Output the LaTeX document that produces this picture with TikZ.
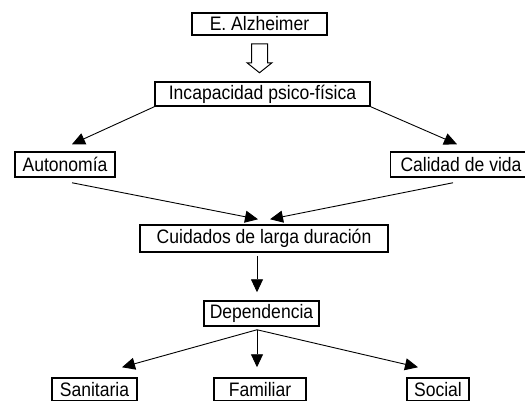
\documentclass[tikz,border=0pt]{standalone}
\usepackage{fontspec}
\setmainfont{Liberation Sans}[FakeStretch=0.9]
\usepackage{tikz}
\usetikzlibrary{arrows.meta}

\tikzset{
  caja/.style={draw,line width=1.5pt,inner sep=0pt,minimum height=24pt,font=\fontsize{19.5}{22}\selectfont},
  flecha/.style={-{Triangle[length=13pt,width=12pt]},line width=0.9pt}
}

\begin{document}
\begin{tikzpicture}[x=1pt,y=-1pt]
  \useasboundingbox (0,0) rectangle (525,400);
   \draw (259.5,24) node[caja,minimum width=135pt,minimum height=22pt] (alz) {E. Alzheimer};
   \draw (262.5,94) node[caja,minimum width=215pt] (inc) {Incapacidad psico-física};
    \draw (65,164.5) node[caja,minimum width=100pt,minimum height=25pt] (aut) {Autonomía};
    \draw (461,164.5) node[caja,minimum width=141pt,minimum height=25pt] (cal) {Calidad de vida};
  \draw (264,238.5) node[caja,minimum width=248pt,minimum height=27pt] (cui) {Cuidados de larga duración};
    \draw (261.5,313.5) node[caja,minimum width=115pt,minimum height=25pt] (dep) {Dependencia};
  \draw (94.5,389.5) node[caja,minimum width=85pt,minimum height=23pt] (san) {Sanitaria};
  \draw (260,389.5) node[caja,minimum width=92pt,minimum height=23pt] (fam) {Familiar};
  \draw (438,389.5) node[caja,minimum width=62pt,minimum height=23pt] (soc) {Social};

  % flecha hueca
  \draw[line width=1pt] ([shift={(-8,8)}]alz.south) -- ([shift={(-8,27)}]alz.south)
     -- ([shift={(-12.5,27)}]alz.south) -- ([shift={(0,37)}]alz.south)
     -- ([shift={(12.5,27)}]alz.south) -- ([shift={(8,27)}]alz.south)
     -- ([shift={(8,8)}]alz.south) -- cycle;

      \draw[flecha] (inc.south west) -- ([shift={(7,-7)}]aut.north);
      \draw[flecha] (inc.south east) -- ([shift={(-4,-7)}]cal.north);
      \draw[flecha] ([shift={(7,5)}]aut.south) -- ([shift={(-6,-5)}]cui.north);
      \draw[flecha] ([shift={(-8,5)}]cal.south) -- ([shift={(6,-5)}]cui.north);
      \draw[flecha] ([shift={(-7,3)}]cui.south) -- ([shift={(-4.5,-8)}]dep.north);
      \draw[flecha] ([shift={(-4.5,3)}]dep.south) -- ([shift={(27.5,-10)}]san.north);
      \draw[flecha] ([shift={(-4.5,3)}]dep.south) -- ([shift={(-3,-10)}]fam.north);
      \draw[flecha] ([shift={(-4.5,3)}]dep.south) -- ([shift={(-20,-10)}]soc.north);
\end{tikzpicture}
\end{document}
